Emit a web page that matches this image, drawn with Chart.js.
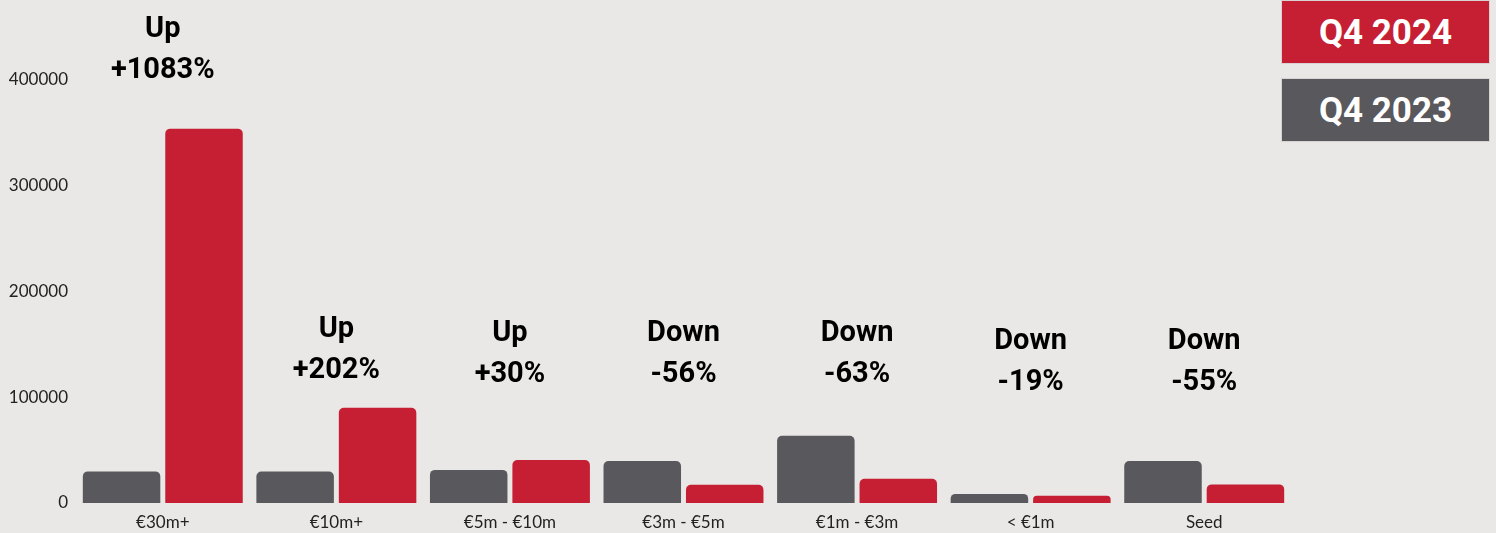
<!DOCTYPE html>
<html>
<head>
<meta charset="utf-8">
<script src="https://cdn.jsdelivr.net/npm/chart.js@4/dist/chart.umd.min.js"></script>
<style>
  body { margin: 0; background: #e9e8e6; }
  #wrap { position: relative; width: 1496px; height: 533px; }
  .key {
    position: absolute; left: 1281px; width: 209px; height: 64px;
    color: #fff; font: bold 35px Roboto, sans-serif;
    display: flex; align-items: center; justify-content: center;
    box-sizing: border-box; border: 1px solid #d6d3d2;
  }
</style>
</head>
<body>
<div id="wrap">
  <canvas id="chart" width="1496" height="533"></canvas>
  <div class="key" style="top:0; background:#c61f33;">Q4 2024</div>
  <div class="key" style="top:78px; background:#59585c;">Q4 2023</div>
</div>
<script>
const categories = ["€30m+", "€10m+", "€5m - €10m", "€3m - €5m", "€1m - €3m", "< €1m", "Seed"];
const q4_2023 = [29900, 29800, 31300, 39800, 63500, 8500, 39800];
const q4_2024 = [354000, 90000, 40700, 17300, 22900, 6800, 17600];
const direction = ["Up", "Up", "Up", "Down", "Down", "Down", "Down"];
const change = ["+1083%", "+202%", "+30%", "-56%", "-63%", "-19%", "-55%"];
const yTicks = [0, 100000, 200000, 300000, 400000];

// where the two-line notes sit (top line middle, px)
const noteTop = [27, 327, 331, 331, 331, 339, 339];

const notes = {
  id: 'notes',
  afterDatasetsDraw(chart) {
    const c = chart.ctx;
    const x = chart.scales.x;
    c.save();
    c.fillStyle = '#000';
    c.font = 'bold 29px Roboto';
    c.textAlign = 'center';
    c.textBaseline = 'middle';
    categories.forEach((cat, i) => {
      const cx = x.getPixelForValue(i);
      c.fillText(direction[i], cx, noteTop[i] + 3);
      c.fillText(change[i], cx, noteTop[i] + 44);
    });
    c.restore();
  }
};

const ctx = document.getElementById('chart').getContext('2d');
new Chart(ctx, {
  type: 'bar',
  data: {
    labels: categories,
    datasets: [
      {
        label: 'Q4 2023',
        data: q4_2023,
        backgroundColor: '#59585c',
        borderRadius: { topLeft: 5, topRight: 5 },
        borderSkipped: 'bottom',
        categoryPercentage: 0.95,
        barPercentage: 0.94
      },
      {
        label: 'Q4 2024',
        data: q4_2024,
        backgroundColor: '#c61f33',
        borderRadius: { topLeft: 5, topRight: 5 },
        borderSkipped: 'bottom',
        categoryPercentage: 0.95,
        barPercentage: 0.94
      }
    ]
  },
  options: {
    responsive: false,
    animation: false,
    layout: { padding: { top: 0, right: 205, left: 0, bottom: 0 } },
    plugins: {
      legend: { display: false },
      tooltip: { enabled: false }
    },
    scales: {
      x: {
        grid: { display: false },
        border: { display: false },
        ticks: { color: '#222', font: { family: 'Lato', size: 17 }, padding: 1 },
        afterFit(scale) { scale.height = 30; }
      },
      y: {
        min: 0,
        max: 466000,
        grid: { display: false },
        border: { display: false },
        afterBuildTicks(scale) { scale.ticks = yTicks.map(v => ({ value: v })); },
        ticks: {
          color: '#222',
          padding: 0,
          autoSkip: false,
          font: { family: 'Lato', size: 17 },
          callback: v => String(v)
        },
        afterFit(scale) { scale.width = 76; }
      }
    }
  },
  plugins: [notes]
});
</script>
</body>
</html>
